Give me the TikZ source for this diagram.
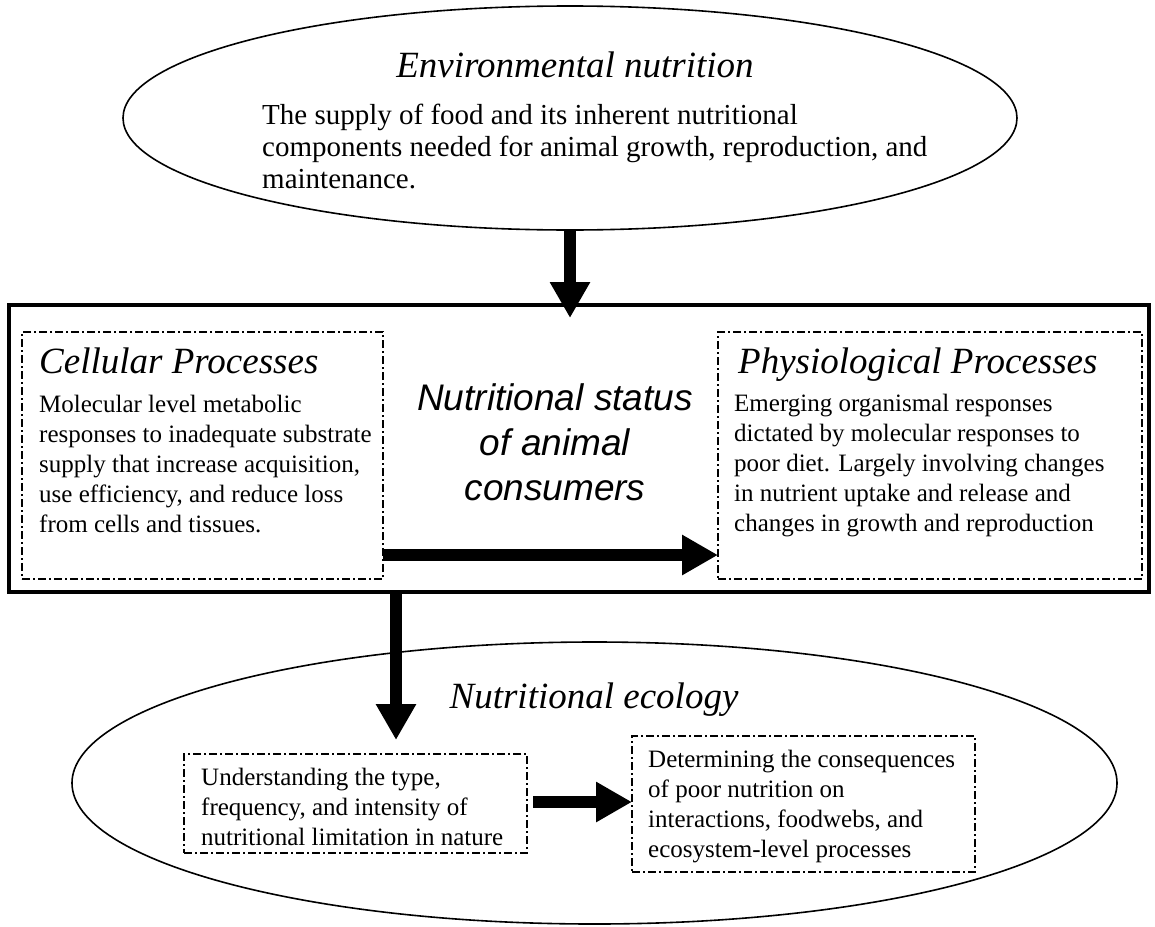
\documentclass[tikz,border=0pt]{standalone}
\usepackage{fontspec}
\setmainfont{Liberation Serif}
\newfontfamily\arialf{Liberation Sans}
\usetikzlibrary{shapes.geometric,arrows.meta}
\newcommand{\Llines}[1]{\vtop{\halign{##\hfil\cr #1\crcr}}}
\newcommand{\Clines}[1]{\vtop{\halign{\hfil##\hfil\cr #1\crcr}}}
\tikzset{
  ell/.style={draw, ellipse, line width=1.6pt, inner sep=0pt, outer sep=0pt},
  bigbox/.style={draw, rectangle, line width=4.5pt, inner sep=0pt, outer sep=0pt},
  dbox/.style={draw, rectangle, line width=1.3pt, dash pattern=on 8pt off 3pt on 2pt off 3pt, inner sep=0pt, outer sep=0pt},
  ttl/.style={inner sep=0pt, font=\fontsize{37}{44}\selectfont\itshape},
  body/.style={inner sep=0pt, font=\fontsize{25}{30}\selectfont},
  topbody/.style={inner sep=0pt, font=\fontsize{29}{32}\selectfont},
  ctext/.style={inner sep=0pt, font=\fontsize{37}{45}\selectfont\arialf\itshape},
  bigarrow/.style={line width=12pt, -{Triangle[length=36pt,width=38pt]}},
}
\begin{document}
\begin{tikzpicture}[x=1pt, y=-1pt]
\useasboundingbox (0,0) rectangle (1155,926);
% shapes
\node[ell, minimum width=894pt, minimum height=224pt] (env) at (570,118) {};
\node[ell, minimum width=1045pt, minimum height=282pt] (eco) at (594.5,783) {};
\node[bigbox, minimum width=1140pt, minimum height=287pt] (big) at (579,448.5) {};
\node[dbox, minimum width=361pt, minimum height=247pt] (lbox) at (202.5,455.5) {};
\node[dbox, minimum width=424pt, minimum height=247pt] (rbox) at (930,455.5) {};
\node[dbox, minimum width=343pt, minimum height=99pt] (sl) at (355.5,803.5) {};
\node[dbox, minimum width=343pt, minimum height=136pt] (sr) at (803.5,804) {};
% texts
\node[ttl, anchor=base] (envt) at (575,77) {Environmental nutrition};
\node[topbody, anchor=base west] (envb) at (262,124) {\Llines{The supply of food and its inherent nutritional\cr components needed for animal growth, reproduction, and\cr maintenance.}};
\node[ttl, anchor=base west] (lt) at (39,373) {Cellular Processes};
\node[body, anchor=base west] (lb) at (39,412) {\Llines{Molecular level metabolic\cr responses to inadequate substrate\cr supply that increase acquisition,\cr use efficiency, and reduce loss\cr from cells and tissues.}};
\node[ttl, anchor=base west] (rt) at (738,373) {Physiological Processes};
\node[body, anchor=base west] (rb) at (734,411) {\Llines{Emerging organismal responses\cr dictated by molecular responses to\cr poor diet. Largely involving changes\cr in nutrient uptake and release and\cr changes in growth and reproduction}};
\node[ctext, anchor=base] (ct) at (555,410) {\Clines{Nutritional status\cr of animal\cr consumers}};
\node[ttl, anchor=base] (ecot) at (594,708) {Nutritional ecology};
\node[body, anchor=base west] (slb) at (201,785) {\Llines{Understanding the type,\cr frequency, and intensity of\cr nutritional limitation in nature}};
\node[body, anchor=base west] (srb) at (648,767) {\Llines{Determining the consequences\cr of poor nutrition on\cr interactions, foodwebs, and\cr ecosystem-level processes}};
% connectors
\coordinate (t1) at (570,318);
\coordinate (m1) at (0,555);
\coordinate (t2) at (396,740);
\coordinate (m2) at (0,802);
\draw[bigarrow] (env.south) -- (t1);
\draw[bigarrow] (lbox.east |- m1) -- (rbox.west |- m1);
\draw[bigarrow] (big.south -| t2) -- (t2);
\draw[bigarrow] ([xshift=6pt]sl.east |- m2) -- (sr.west |- m2);
\end{tikzpicture}
\end{document}
